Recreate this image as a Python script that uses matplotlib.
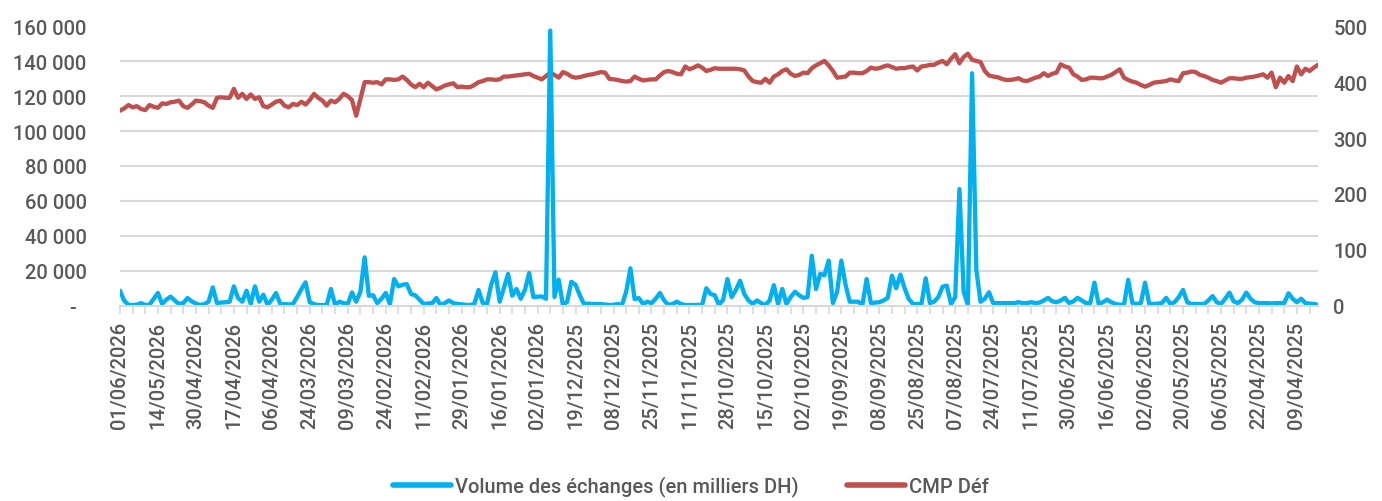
"""
Volume des échanges et CMP - graphique double axe (style Excel).
"""
import numpy as np
import matplotlib
matplotlib.use('Agg')
import matplotlib.pyplot as plt
from matplotlib.ticker import FuncFormatter

# ============================================================
# Données (séances, de la plus récente à la plus ancienne)
# ============================================================
date_labels = [
    "01/06/2026", "14/05/2026", "30/04/2026", "17/04/2026", "06/04/2026",
    "24/03/2026", "09/03/2026", "24/02/2026", "11/02/2026", "29/01/2026",
    "16/01/2026", "02/01/2026", "19/12/2025", "08/12/2025", "25/11/2025",
    "11/11/2025", "28/10/2025", "15/10/2025", "02/10/2025", "19/09/2025",
    "08/09/2025", "25/08/2025", "07/08/2025", "24/07/2025", "11/07/2025",
    "30/06/2025", "16/06/2025", "02/06/2025", "20/05/2025", "06/05/2025",
    "22/04/2025", "09/04/2025",
]

# volume des échanges, en milliers DH
volume = [
    8600, 2900, 500, 400, 600, 1500, 400, 600, 4000, 7300,
    1000, 3500, 5200, 3000, 1000, 1500, 4400, 2500, 1200, 400,
    900, 2300, 10500, 1500, 1800, 2000, 2300, 11100, 4400, 2300,
    8600, 1000, 11100, 2300, 6300, 400, 3500, 7300, 1000, 900,
    700, 1000, 5000, 9500, 13400, 2000, 900, 400, 400, 400,
    9600, 400, 2300, 1500, 1000, 7600, 2300, 8000, 27700, 5700,
    6000, 1500, 4000, 7300, 1000, 15300, 11100, 12000, 12400, 6700,
    6000, 3500, 1000, 1300, 1500, 4400, 400, 1500, 3000, 1500,
    1000, 800, 500, 400, 1000, 9000, 1500, 1000, 12000, 19100,
    2300, 10000, 18200, 5700, 9600, 4000, 9000, 18700, 5000, 5200,
    5300, 4000, 157500, 5000, 14900, 400, 2300, 13700, 12000, 6000,
    1000, 1200, 1000, 1000, 900, 700, 400, 500, 1000, 400,
    8000, 21400, 3800, 4400, 1000, 2300, 1500, 4000, 7300, 3000,
    400, 1000, 2300, 1000, 400, 400, 400, 500, 400, 10000,
    6700, 6000, 400, 3500, 15300, 5000, 9000, 14300, 6700, 3000,
    1000, 3000, 1500, 400, 3000, 11800, 1000, 9600, 1000, 5000,
    8000, 6000, 4500, 5000, 28600, 9600, 18200, 17500, 25800, 1500,
    8000, 25800, 12000, 2300, 2300, 2300, 400, 15300, 1500, 1800,
    2000, 3000, 4500, 17200, 10000, 17800, 10000, 3800, 1000, 1000,
    1000, 15700, 1500, 2300, 5000, 10900, 11500, 1000, 5000, 66800,
    8000, 500, 133100, 20500, 2300, 4000, 7700, 1500, 1500, 1500,
    1500, 1500, 1500, 2000, 1500, 1500, 2000, 1500, 1800, 3000,
    4500, 2500, 2000, 3000, 4500, 1500, 2500, 4500, 3000, 1500,
    1500, 13200, 1000, 2000, 3500, 2000, 1000, 600, 400, 14800,
    1500, 1000, 1500, 13200, 1000, 1000, 1200, 1500, 4500, 1000,
    2000, 5000, 9000, 2000, 1000, 1000, 1000, 1000, 3000, 5500,
    2000, 1000, 4000, 7500, 2500, 1500, 3500, 7500, 4000, 2000,
    1500, 1500, 1500, 1300, 1500, 1500, 1500, 7100, 4000, 2000,
    4000, 1500, 1200, 1000, 500,
]

# cours moyen pondéré
cmp_def = [
    349, 353, 359, 355, 357, 352, 350, 359, 356, 354,
    362, 361, 364, 365, 367, 357, 354, 360, 367, 366,
    364, 358, 354, 372, 373, 372, 372, 388, 372, 379,
    370, 378, 370, 373, 357, 355, 360, 365, 367, 358,
    355, 361, 359, 365, 360, 368, 379, 372, 367, 358,
    367, 364, 370, 379, 375, 368, 340, 370, 400, 400,
    399, 400, 396, 405, 405, 404, 405, 410, 404, 396,
    391, 397, 391, 399, 393, 387, 390, 394, 396, 398,
    391, 392, 391, 391, 395, 400, 402, 405, 405, 404,
    405, 410, 410, 411, 412, 413, 414, 415, 411, 408,
    405, 411, 417, 413, 408, 418, 415, 410, 408, 409,
    411, 413, 414, 416, 418, 417, 406, 405, 404, 402,
    401, 402, 410, 406, 403, 404, 405, 405, 412, 418,
    420, 418, 415, 414, 428, 423, 426, 430, 426, 420,
    422, 425, 424, 424, 424, 424, 424, 423, 421, 410,
    402, 400, 399, 406, 399, 410, 414, 420, 423, 415,
    411, 413, 417, 416, 425, 430, 434, 438, 430, 420,
    408, 409, 410, 417, 417, 416, 416, 420, 426, 424,
    425, 428, 430, 427, 424, 425, 425, 427, 428, 421,
    428, 429, 431, 431, 435, 438, 432, 442, 450, 434,
    445, 451, 440, 438, 436, 420, 412, 410, 409, 406,
    404, 404, 405, 407, 403, 402, 405, 408, 410, 416,
    411, 415, 417, 432, 428, 426, 414, 410, 404, 405,
    408, 408, 407, 407, 410, 413, 418, 423, 408, 404,
    401, 399, 395, 392, 395, 399, 400, 401, 402, 405,
    403, 402, 416, 417, 419, 418, 413, 411, 408, 404,
    402, 399, 403, 407, 407, 406, 406, 408, 409, 410,
    412, 414, 408, 417, 391, 408, 399, 411, 402, 428,
    414, 424, 420, 426, 431,
]

# ============================================================
# Style
# ============================================================
BLUE = '#00B0F0'
RED = '#C0504D'
GREY = '#595959'
GRID = '#D9D9D9'
FS = 14.5
LW = 3.1

plt.rcParams['font.family'] = ['Roboto', 'DejaVu Sans']
plt.rcParams['font.weight'] = 'medium'
plt.rcParams['font.size'] = FS


def fmt_thousands(v, pos):
    # format comptable Excel : tiret pour zéro, espace comme séparateur
    if v == 0:
        return '-  '
    return f'{int(v):,}'.replace(',', ' ')


fig = plt.figure(figsize=(13.82, 5.02), dpi=100)
ax = fig.add_axes([0.0868, 0.389, 0.8669, 0.5567])
ax2 = ax.twinx()

x = np.arange(len(volume))
l1, = ax.plot(x, volume, color=BLUE, lw=LW, solid_joinstyle='round',
              solid_capstyle='round',
              label='Volume des échanges (en milliers DH)')
l2, = ax2.plot(x, cmp_def, color=RED, lw=LW, solid_joinstyle='round',
               solid_capstyle='round', label='CMP Déf')

# la courbe bleue passe devant la rouge
ax.set_zorder(ax2.get_zorder() + 1)
ax.patch.set_visible(False)

ax.set_xlim(0, len(volume) - 1)
ax.set_ylim(0, 160000)
ax2.set_ylim(0, 500)

ax.set_yticks(np.arange(0, 160001, 20000))
ax.yaxis.set_major_formatter(FuncFormatter(fmt_thousands))
ax.tick_params(axis='y', length=0, pad=24, labelcolor=GREY)

ax2.set_yticks(np.arange(0, 501, 100))
# quadrillage calé sur l'axe gauche, dessiné sous les deux courbes
ax2.set_yticks(np.linspace(0, 500, 9), minor=True)
ax2.grid(which='minor', axis='y', color=GRID, lw=1.5)
ax2.tick_params(axis='y', which='both', length=0, pad=11, labelcolor=GREY)

ax.set_xticks(np.arange(0, len(volume), 9))
ax.set_xticklabels(date_labels, rotation=90)
ax.set_xticks(np.arange(0, len(volume), 3), minor=True)
ax.tick_params(axis='x', which='both', length=6, width=1.2, color=GRID,
               pad=5, labelcolor=GREY)

for a in (ax, ax2):
    for s in a.spines.values():
        s.set_visible(False)
ax.spines['bottom'].set_visible(True)
ax.spines['bottom'].set_color(GRID)
ax.spines['bottom'].set_linewidth(1.5)

leg = fig.legend(handles=[l1, l2], loc='center', bbox_to_anchor=(0.5, 0.03),
                 ncol=2, frameon=False, handlelength=2.9, handletextpad=0.2,
                 columnspacing=2.4, fontsize=FS, labelcolor=GREY)
for h in leg.legend_handles:
    h.set_linewidth(4)

fig.savefig('out.png', dpi=100)
